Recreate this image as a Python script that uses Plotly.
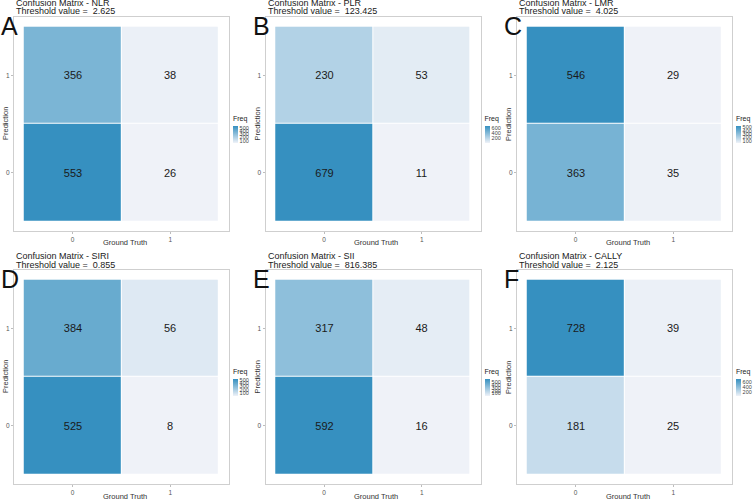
import plotly.graph_objects as go

W, H = 753, 499

# panel data: rows are Prediction 0 / 1, columns are Ground Truth 0 / 1
letters = ["A", "B", "C", "D", "E", "F"]
markers = ["NLR", "PLR", "LMR", "SIRI", "SII", "CALLY"]
thresholds = ["2.625", "123.425", "4.025", "0.855", "816.385", "2.125"]
pred0 = [[553, 26], [679, 11], [363, 35], [525, 8], [592, 16], [181, 25]]
pred1 = [[356, 38], [230, 53], [546, 29], [384, 56], [317, 48], [728, 39]]
cbar_step = [100, 200, 100, 100, 100, 200]
classes = [0, 1]

colorscale = [[0, "#EFF2F8"], [1, "#3690C0"]]

col_left = [14, 265.5, 517]
panel_w = 215
row_top = [17, 270]
panel_h = 214

fig = go.Figure()
annotations = []

def px_x(v):
    return v / W

def px_y(v):
    return 1 - v / H

def note(text, x, y, size, color, **kw):
    d = dict(text=text, x=px_x(x), y=px_y(y), xref="paper", yref="paper",
             yanchor="middle", showarrow=False,
             font=dict(size=size, color=color))
    d.update(kw)
    annotations.append(d)

for i in range(6):
    r, c = divmod(i, 3)
    left = col_left[c]
    top = row_top[r]
    right = left + panel_w
    bottom = top + panel_h
    n = "" if i == 0 else str(i + 1)
    z = [pred0[i], pred1[i]]
    fig.add_trace(go.Heatmap(
        x=classes, y=classes, z=z,
        coloraxis="coloraxis" + n,
        xaxis="x" + n, yaxis="y" + n,
        xgap=1, ygap=1,
        texttemplate="%{z}",
        textfont=dict(size=11, color="#1a1a1a"),
        hoverinfo="z",
    ))
    axis_style = dict(
        range=[-0.6, 1.6], showgrid=False, zeroline=False,
        showline=True, mirror=True, linecolor="#CFCFCF", linewidth=1,
        ticks="outside", ticklen=2, tickcolor="#BDBDBD",
        tickvals=classes, ticktext=[str(v) for v in classes],
        tickfont=dict(size=6.5, color="#555555"),
    )
    fig.update_layout({
        "xaxis" + n: dict(axis_style, domain=[px_x(left), px_x(right)],
                          anchor="y" + n),
        "yaxis" + n: dict(axis_style, domain=[px_y(bottom), px_y(top)],
                          anchor="x" + n),
        "coloraxis" + n: dict(
            colorscale=colorscale,
            cmin=min(min(pred0[i]), min(pred1[i])),
            cmax=max(max(pred0[i]), max(pred1[i])),
            colorbar=dict(
                title=dict(text="Freq", side="top",
                           font=dict(size=7, color="#222222")),
                x=px_x(right + 4), xanchor="left", xpad=0,
                y=px_y(top + 111), yanchor="middle", ypad=0,
                thickness=5, len=30, lenmode="pixels",
                outlinewidth=0, ticks="", dtick=cbar_step[i],
                tickfont=dict(size=5.5, color="#444444"),
            ),
        ),
    })
    # panel titles
    note("Confusion Matrix - " + markers[i], left, top - 14, 9, "#1a1a1a",
         xanchor="left")
    note("Threshold value =\u00a0\u00a0" + thresholds[i], left, top - 5.5,
         9, "#1a1a1a", xanchor="left")
    # panel letter
    note(letters[i], left - 15, top + 9, 25, "#111111", xanchor="left")
    # axis titles
    note("Ground Truth", (left + right) / 2 + 3, bottom + 12, 7.5, "#333333",
         xanchor="center")
    note("Prediction", left - 9, (top + bottom) / 2, 7.5, "#333333",
         xanchor="center", textangle=-90)

fig.update_layout(
    width=W, height=H, autosize=False,
    margin=dict(l=0, r=0, t=0, b=0, autoexpand=False),
    paper_bgcolor="white", plot_bgcolor="white",
    font=dict(family="Liberation Sans, Arial, sans-serif"),
    annotations=annotations,
)

fig.write_html("out.html", config={"displayModeBar": False},
               post_script="document.body.style.margin='0';")
